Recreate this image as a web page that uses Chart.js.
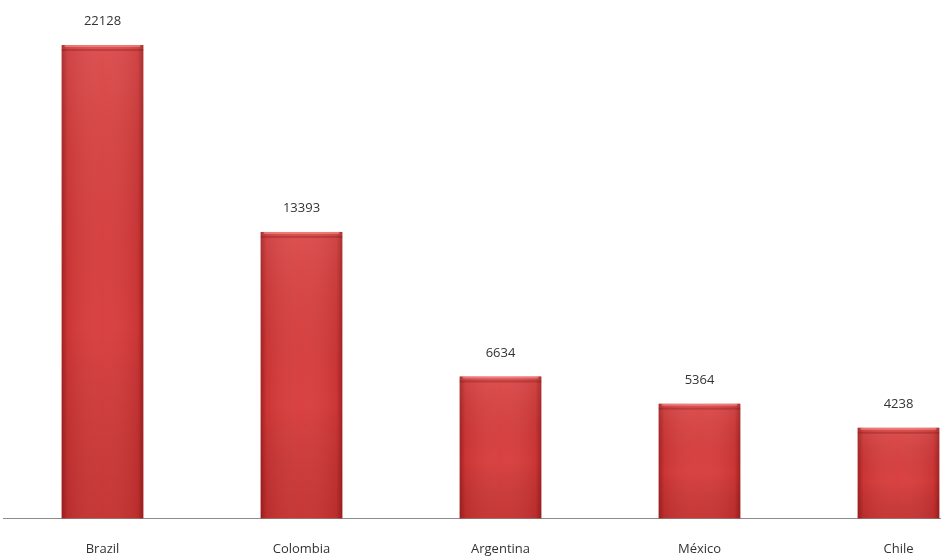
<!DOCTYPE html>
<html>
<head>
<meta charset="utf-8">
<script src="https://cdn.jsdelivr.net/npm/chart.js@4/dist/chart.umd.min.js"></script>
<style>
  html, body { margin: 0; padding: 0; background: #fff; overflow: hidden; }
  #wrap { width: 1000px; height: 559px; position: relative; }
</style>
</head>
<body>
<div id="wrap"><canvas id="bar-chart"></canvas></div>
<script>
// Chart data
var countries = ["Brazil", "Colombia", "Argentina", "México", "Chile"];
var counts = [22128, 13393, 6634, 5364, 4238];
var yMax = 24000;

// value labels above the bars + a bit of shading on each bar
var barDecor = {
    id: 'barDecor',
    afterDatasetsDraw: function(chart) {
        var ctx = chart.ctx;
        var meta = chart.getDatasetMeta(0);
        meta.data.forEach(function(bar, i) {
            var left = bar.x - bar.width / 2;
            var right = bar.x + bar.width / 2;
            var top = bar.y;
            var bottom = bar.base;

            // darker side edges
            var g = ctx.createLinearGradient(left, 0, right, 0);
            g.addColorStop(0, 'rgba(110,10,10,0.5)');
            g.addColorStop(0.07, 'rgba(110,10,10,0.12)');
            g.addColorStop(0.5, 'rgba(255,255,255,0.03)');
            g.addColorStop(0.93, 'rgba(110,10,10,0.12)');
            g.addColorStop(1, 'rgba(110,10,10,0.5)');
            ctx.save();
            ctx.fillStyle = g;
            ctx.fillRect(left, top, bar.width, bottom - top);

            // darker towards the bottom
            var v = ctx.createLinearGradient(0, top, 0, bottom);
            v.addColorStop(0, 'rgba(255,255,255,0.08)');
            v.addColorStop(0.6, 'rgba(0,0,0,0)');
            v.addColorStop(1, 'rgba(90,0,0,0.15)');
            ctx.fillStyle = v;
            ctx.fillRect(left, top, bar.width, bottom - top);

            // top bevel
            ctx.fillStyle = 'rgba(255,170,160,0.5)';
            ctx.fillRect(left + 3, top, bar.width - 6, 2);
            ctx.fillStyle = 'rgba(120,20,20,0.3)';
            ctx.fillRect(left, top + 4, bar.width, 2);

            // value label
            ctx.fillStyle = '#333333';
            ctx.font = '13px "Open Sans", sans-serif';
            ctx.textAlign = 'center';
            ctx.textBaseline = 'bottom';
            ctx.fillText(counts[i], bar.x, top - 17);
            ctx.restore();
        });
    }
};

var ctx = document.getElementById("bar-chart");

var chartData = {
    labels: countries,
    datasets: [{
        label: "Count",
        data: counts,
        backgroundColor: "#d83b3b",
        borderWidth: 0,
        barPercentage: 0.41,
        categoryPercentage: 1.0
    }]
};

var config = {
    type: 'bar',
    data: chartData,
    options: {
        responsive: false,
        animation: false,
        devicePixelRatio: 1,
        layout: { padding: { left: 3, right: 2, top: 5, bottom: -21 } },
        plugins: {
            legend: { display: false },
            tooltip: { enabled: false }
        },
        scales: {
            x: {
                grid: { display: false, drawTicks: false },
                border: { display: true, color: '#8c8c8c', width: 1 },
                ticks: {
                    color: '#333333',
                    font: { family: 'Open Sans', size: 13 },
                    padding: 23
                }
            },
            y: {
                display: false,
                min: 0,
                max: yMax
            }
        }
    },
    plugins: [barDecor]
};

ctx.width = 1000;
ctx.height = 559;
var barChart = new Chart(ctx, config);
</script>
</body>
</html>
